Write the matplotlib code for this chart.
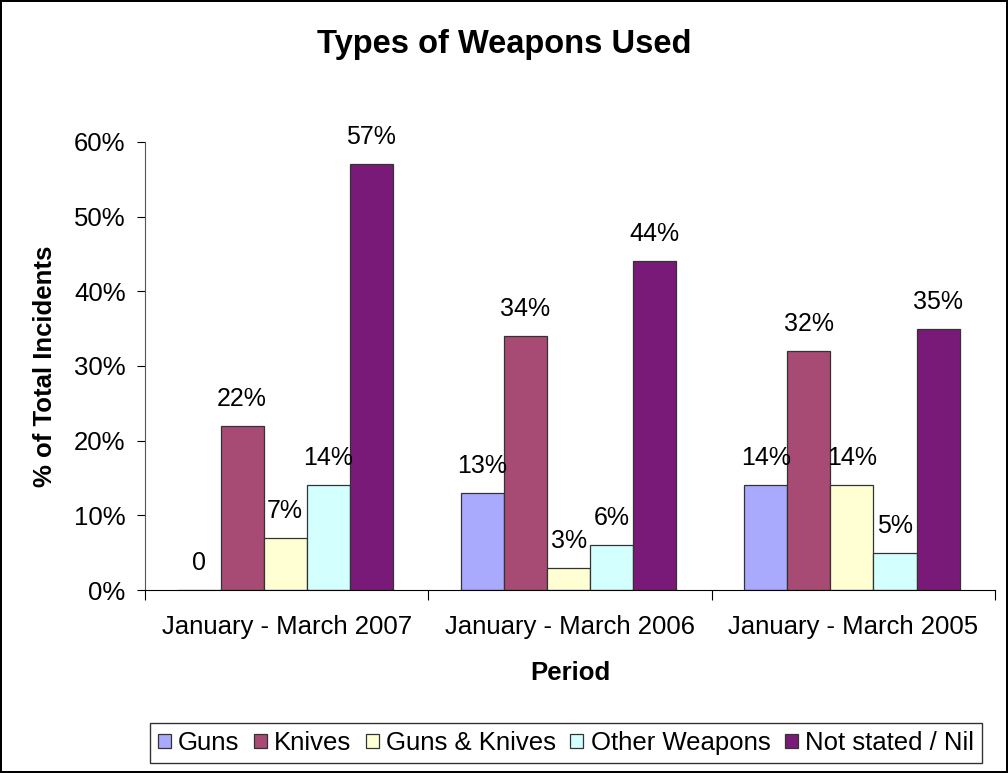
import matplotlib
matplotlib.use("Agg")
import matplotlib.pyplot as plt
import numpy as np
from matplotlib.ticker import FuncFormatter, FixedLocator

plt.rcParams['font.family'] = ['Liberation Sans', 'DejaVu Sans']

periods = ["January - March 2007", "January - March 2006", "January - March 2005"]
series = ["Guns", "Knives", "Guns & Knives", "Other Weapons", "Not stated / Nil"]
guns = [0, 13, 14]
knives = [22, 34, 32]
guns_knives = [7, 3, 14]
other = [14, 6, 5]
not_stated = [57, 44, 35]
labels = [["0", "13%", "14%"], ["22%", "34%", "32%"], ["7%", "3%", "14%"],
          ["14%", "6%", "5%"], ["57%", "44%", "35%"]]
colors = ["#A9A9FE", "#A74A74", "#FFFFD3", "#D3FFFF", "#7A1A78"]

values = [guns, knives, guns_knives, other, not_stated]

fig = plt.figure(figsize=(10.08, 7.73), dpi=100)
fig.patch.set_edgecolor("black")
fig.patch.set_linewidth(1.5)
ax = fig.add_axes([145/1008, 1-590/773, 850/1008, (590-142)/773])

w = 0.152
centers = np.arange(len(periods)) + 0.5
for i, (vals, col) in enumerate(zip(values, colors)):
    x = centers + (i - 2) * w - 0.005
    v = np.array(vals) / 100.0
    ax.bar(x, v, width=w, color=col, edgecolor="#333333", linewidth=0.9, label=series[i], zorder=2)
    for xi, vi, lab in zip(x, v, labels[i]):
        ax.annotate(lab, (xi, vi), xytext=(0, 19.5), textcoords="offset points",
                    ha="center", va="center", fontsize=18)

ax.set_xlim(0, 3)
ax.set_ylim(0, 0.6)
ax.set_yticks(np.arange(0, 0.61, 0.1))
ax.yaxis.set_major_formatter(FuncFormatter(lambda v, p: f"{v*100:.0f}%"))
ax.xaxis.set_major_locator(FixedLocator([0, 1, 2, 3]))
ax.xaxis.set_minor_locator(FixedLocator(centers))
ax.xaxis.set_major_formatter(FuncFormatter(lambda v, p: ""))
ax.set_xticklabels(periods, minor=True)
ax.tick_params(axis="x", which="minor", length=0, labelsize=18.5, pad=18)
ax.tick_params(axis="x", which="major", length=7, direction="out")
ax.tick_params(axis="y", length=6, direction="out", labelsize=18.5, pad=8)

for s in ["top", "right"]:
    ax.spines[s].set_visible(False)
ax.spines["left"].set_color("#555555")
ax.spines["bottom"].set_color("black")

ax.set_xlabel("Period", fontsize=18.5, fontweight="bold", labelpad=16)
ax.set_ylabel("% of Total Incidents", fontsize=18.5, fontweight="bold", labelpad=12)
fig.text(0.5, 1-45/773, "Types of Weapons Used", ha="center", va="center",
         fontsize=23.5, fontweight="bold")

leg = fig.legend(loc="center", bbox_to_anchor=(566/1008, 1-743/773), ncol=5,
                 fontsize=18.5, frameon=True, fancybox=False, edgecolor="black",
                 handlelength=0.5, handleheight=0.5, handletextpad=0.3,
                 columnspacing=0.55, borderpad=0.3)
leg.get_frame().set_linewidth(1.0)

fig.savefig("out.png", dpi=100, edgecolor=fig.get_edgecolor())
